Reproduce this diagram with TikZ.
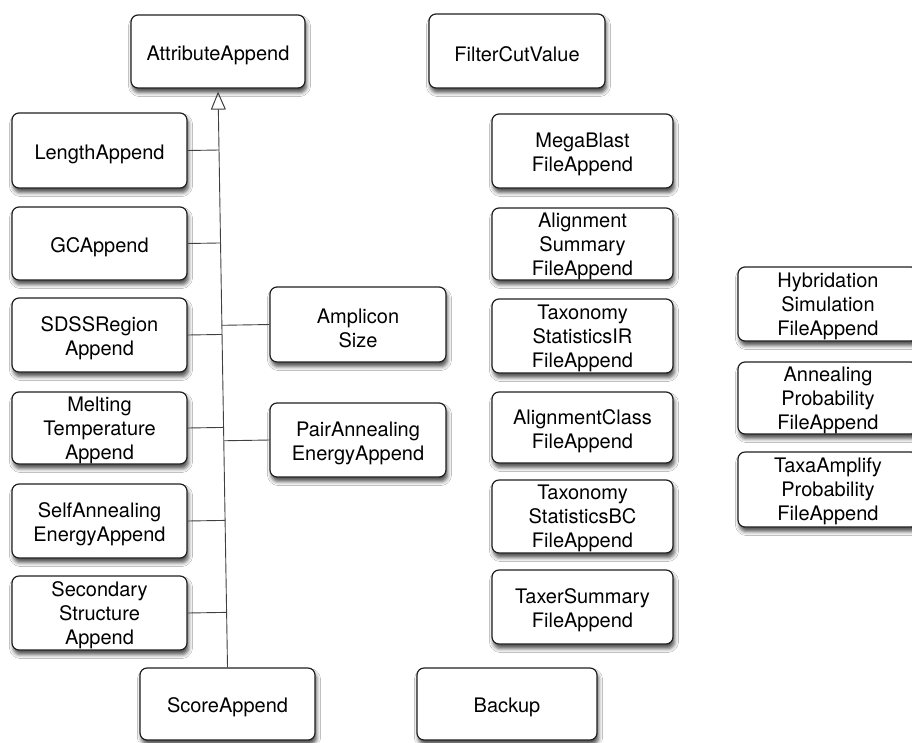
\documentclass[tikz,border=0pt]{standalone}
\usepackage{fontspec}
\setmainfont{TeX Gyre Heros}
\usetikzlibrary{arrows.meta,calc,shadows.blur}

\tikzset{
  cls/.style={draw=black!88, line width=1.2pt, rounded corners=7pt, fill=white,
    align=center, inner sep=0pt, text=black,
    font=\fontsize{20}{24}\selectfont,
    blur shadow={shadow xshift=1.5pt, shadow yshift=-4.5pt,
                 shadow blur radius=4pt, shadow opacity=70}},
  % invisible struts taller than the text block set the text a little low in the box
  l1/.style={cls, execute at begin node={\rule{0pt}{21.5pt}}},
  l2/.style={cls, execute at begin node={\rule{0pt}{45.5pt}}},
  l3/.style={cls, execute at begin node={\rule{0pt}{67pt}}},
  link/.style={draw=black!75, line width=0.9pt},
  inherit/.style={link, -{Triangle[open, length=18pt, width=15pt, line width=1pt]}, shorten >=3pt}
}

\begin{document}
\begin{tikzpicture}[x=1pt, y=-1pt]
  \useasboundingbox (0,0) rectangle (912,742);
  \clip (0,0) rectangle (912,742);
  \fill[white] (0,0) rectangle (912,742);

  % base classes
  \node[l1, minimum width=174pt, minimum height=73pt] (attr)   at (218,51.5)  {AttributeAppend};
  \node[l1, minimum width=176pt, minimum height=74pt] (filter) at (517,51)    {FilterCutValue};

  % left column
  \node[l1, minimum width=175pt, minimum height=75pt] (length) at (99.5,150.5) {LengthAppend};
  \node[l1, minimum width=175pt, minimum height=73pt] (gc)     at (99.5,243.5) {GCAppend};
  \node[l2, minimum width=175pt, minimum height=74pt] (sdss)   at (99.5,335)   {SDSSRegion\\Append};
  \node[l3, minimum width=175pt, minimum height=72pt] (melt)   at (99.5,428)   {Melting\\Temperature\\Append};
  \node[l2, minimum width=175pt, minimum height=74pt] (selfa)  at (99.5,521)   {SelfAnnealing\\EnergyAppend};
  \node[l3, minimum width=175pt, minimum height=74pt] (second) at (99.5,613)   {Secondary\\Structure\\Append};
  \node[l1, minimum width=175pt, minimum height=72pt] (score)  at (227.5,704)  {ScoreAppend};

  % second column
  \node[l2, minimum width=176pt, minimum height=75pt] (amp)    at (358,324.5)  {Amplicon\\Size};
  \node[l2, minimum width=176pt, minimum height=74pt] (pair)   at (358,440)    {PairAnnealing\\EnergyAppend};

  % file-append column
  \node[l2, minimum width=181pt, minimum height=74pt] (mega)   at (582.5,151)   {MegaBlast\\FileAppend};
  \node[l3, minimum width=181pt, minimum height=72pt] (alsum)  at (582.5,244)   {Alignment\\Summary\\FileAppend};
  \node[l3, minimum width=181pt, minimum height=74pt] (taxir)  at (582.5,336)   {Taxonomy\\StatisticsIR\\FileAppend};
  \node[l2, minimum width=181pt, minimum height=71pt] (alcl)   at (582.5,427.5) {AlignmentClass\\FileAppend};
  \node[l3, minimum width=181pt, minimum height=73pt] (taxbc)  at (582.5,516.5) {Taxonomy\\StatisticsBC\\FileAppend};
  \node[l2, minimum width=181pt, minimum height=74pt] (taxer)  at (582.5,607)   {TaxerSummary\\FileAppend};
  \node[l1, minimum width=180pt, minimum height=72pt] (backup) at (507,704)     {Backup};

  % probability column
  \node[l3, minimum width=180pt, minimum height=74pt] (hyb)    at (828,304)   {Hybridation\\Simulation\\FileAppend};
  \node[l3, minimum width=180pt, minimum height=72pt] (anneal) at (828,398)   {Annealing\\Probability\\FileAppend};
  \node[l3, minimum width=180pt, minimum height=75pt] (taxa)   at (828,489.5) {TaxaAmplify\\Probability\\FileAppend};

  % generalisation tree
  \draw[inherit] (score.north) -- (attr.south);
  \foreach \n in {length,gc,sdss,melt,selfa,second}
    \draw[link] (\n.east) -- ($(score.north)!(\n.east)!(attr.south)$);
  \foreach \n in {amp,pair}
    \draw[link] (\n.west) -- ($(score.north)!(\n.west)!(attr.south)$);
\end{tikzpicture}
\end{document}
